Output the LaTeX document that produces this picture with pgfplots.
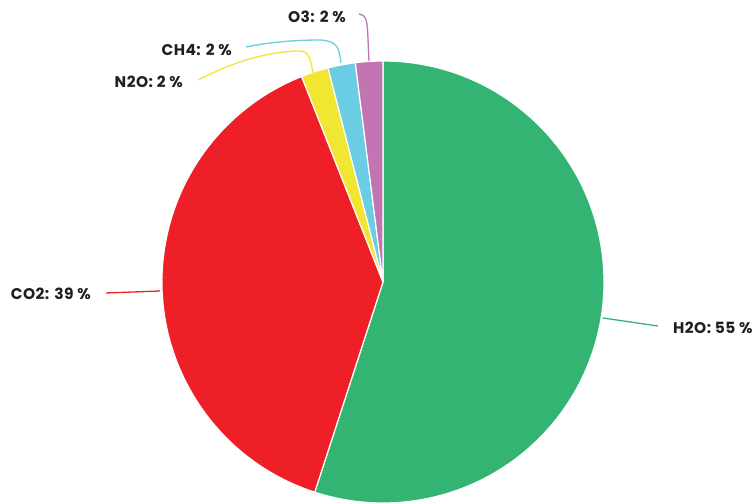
\documentclass[border=0pt]{standalone}
\usepackage{pgfplots}
\usepackage{pgfplotstable}
\pgfplotsset{compat=1.18}
\usepackage{fontspec}
\setmainfont{Poppins}[BoldFont={Poppins Bold}]
\definecolor{cH2O}{HTML}{33B473}
\definecolor{cCO2}{HTML}{EE1F26}
\definecolor{cN2O}{HTML}{F1E732}
\definecolor{cCH4}{HTML}{6ACDE3}
\definecolor{cO3}{HTML}{C176B2}
\pgfplotstableread{
name value
H2O 55
CO2 39
N2O 2
CH4 2
O3 2
}\gasdata
\tikzset{lbl/.style={font=\fontsize{15.5}{18}\selectfont\addfontfeatures{LetterSpace=3}\bfseries, text=black!88, inner sep=0pt}}
\begin{document}
\begin{tikzpicture}
\pgfplotstablegetelem{0}{value}\of\gasdata \let\vA\pgfplotsretval
\pgfplotstablegetelem{1}{value}\of\gasdata \let\vB\pgfplotsretval
\pgfplotstablegetelem{2}{value}\of\gasdata \let\vC\pgfplotsretval
\pgfplotstablegetelem{3}{value}\of\gasdata \let\vD\pgfplotsretval
\pgfplotstablegetelem{4}{value}\of\gasdata \let\vE\pgfplotsretval
\pgfmathsetmacro\tot{\vA+\vB+\vC+\vD+\vE}
\pgfmathsetmacro\k{360/\tot}
\pgfmathsetmacro\aA{90}
\pgfmathsetmacro\aB{\aA-\k*\vA}
\pgfmathsetmacro\aC{\aB-\k*\vB}
\pgfmathsetmacro\aD{\aC-\k*\vC}
\pgfmathsetmacro\aE{\aD-\k*\vD}
\pgfmathsetmacro\aF{\aE-\k*\vE}
\begin{axis}[
  x=1bp, y=1bp, y dir=reverse,
  xmin=0, xmax=753, ymin=0, ymax=504,
  hide axis, clip=false,
]
\def\cx{383}\def\cy{282}\def\R{221bp}
\fill[cH2O, draw=white, line width=1.2bp] (axis cs:\cx,\cy) -- ++(\aA:\R) arc[start angle=\aA, end angle=\aB, radius=\R] -- cycle;
\fill[cCO2, draw=white, line width=1.2bp] (axis cs:\cx,\cy) -- ++(\aB:\R) arc[start angle=\aB, end angle=\aC, radius=\R] -- cycle;
\fill[cN2O, draw=white, line width=1.2bp] (axis cs:\cx,\cy) -- ++(\aC:\R) arc[start angle=\aC, end angle=\aD, radius=\R] -- cycle;
\fill[cCH4, draw=white, line width=1.2bp] (axis cs:\cx,\cy) -- ++(\aD:\R) arc[start angle=\aD, end angle=\aE, radius=\R] -- cycle;
\fill[cO3, draw=white, line width=1.2bp] (axis cs:\cx,\cy) -- ++(\aE:\R) arc[start angle=\aE, end angle=\aF, radius=\R] -- cycle;
% leader lines
\draw[cH2O, line width=1.3bp] (axis cs:603,318) -- (axis cs:658,326);
\draw[cCO2, line width=1.3bp] (axis cs:160,291) -- (axis cs:106,293);
\draw[cN2O, line width=1.3bp] (axis cs:313,73) .. controls (axis cs:310,55) and (axis cs:308,50) .. (axis cs:296,51) .. controls (axis cs:260,53) and (axis cs:230,64) .. (axis cs:198,80);
\draw[cCH4, line width=1.3bp] (axis cs:341,63) .. controls (axis cs:339,48) and (axis cs:338,41) .. (axis cs:320,40) .. controls (axis cs:290,40) and (axis cs:265,43) .. (axis cs:246,47);
\draw[cO3, line width=1.3bp] (axis cs:369,61) .. controls (axis cs:368,45) and (axis cs:368,25) .. (axis cs:366,20) .. controls (axis cs:365,16) and (axis cs:362,14) .. (axis cs:359,14);
% labels
\node[lbl, anchor=west] at (axis cs:673,328) {H2O: 55 \%};
\node[lbl, anchor=east] at (axis cs:91,294) {CO2: 39 \%};
\node[lbl, anchor=east] at (axis cs:183,82) {N2O: 2 \%};
\node[lbl, anchor=east] at (axis cs:232,50) {CH4: 2 \%};
\node[lbl, anchor=east] at (axis cs:346,17) {O3: 2 \%};
\end{axis}
\pgfresetboundingbox
\path[use as bounding box] (current axis.south west) rectangle (current axis.north east);
\end{tikzpicture}
\end{document}
